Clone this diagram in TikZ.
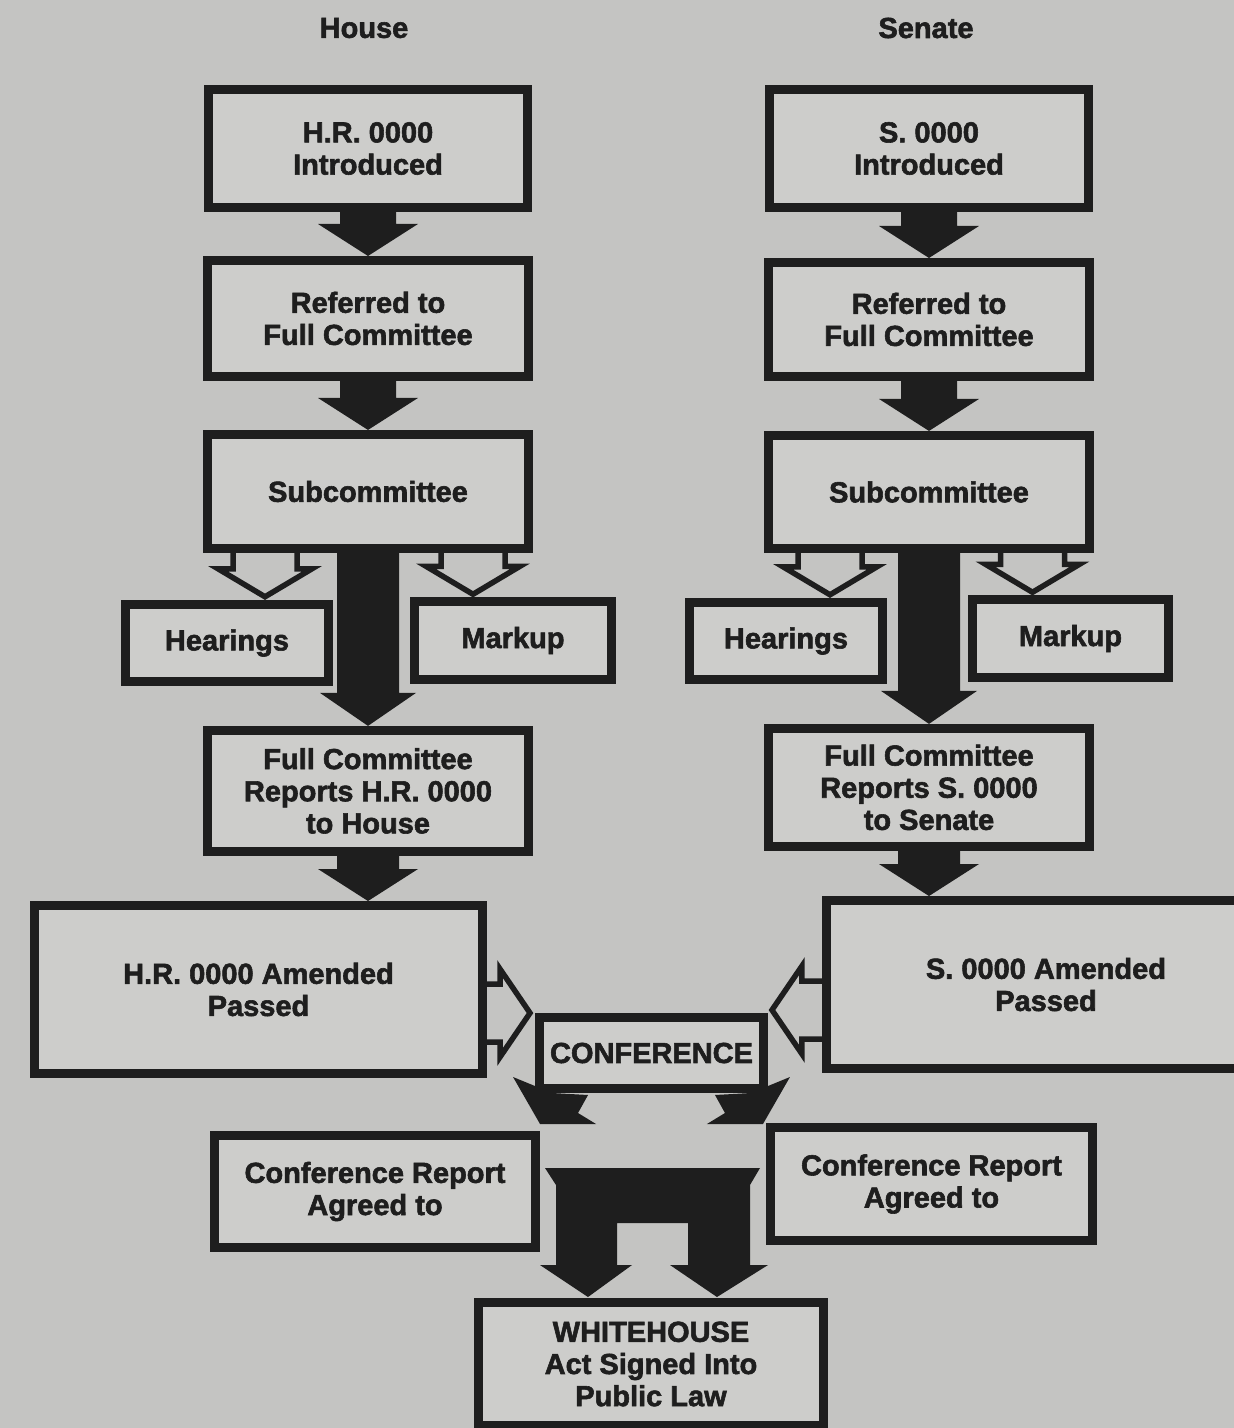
\documentclass[tikz,border=0pt]{standalone}
\usepackage{fontspec}
\setmainfont{Liberation Sans}
\newfontfamily\heavyfont{Liberation Sans Bold}[FakeBold=2]
\usepackage{tikz}
\usetikzlibrary{positioning,calc}
\definecolor{paper}{RGB}{196,196,194}
\definecolor{boxfill}{RGB}{205,205,203}
\definecolor{ink}{RGB}{30,30,30}

% solid block arrow: from, to, shaft half width, head half width, head length
\newcommand{\blockdown}[5]{%
  \coordinate (tip) at (#1.south |- #2.north);
  \fill[blk] ($(#1.south)+(-#3,-4)$) -- ($(tip)+(-#3,-#5)$) -- ($(tip)+(-#4,-#5)$) -- (tip)
    -- ($(tip)+(#4,-#5)$) -- ($(tip)+(#3,-#5)$) -- ($(#1.south)+(#3,-4)$) -- cycle;}
% open arrows: box the arrow leaves, tip coordinate
\newcommand{\opendown}[2]{%
  \draw[openarr] ($(#2 |- #1.south)+(-32,0)$) -- ($(#2)+(-32,-28)$) -- ($(#2)+(-47,-28)$) -- (#2)
    -- ($(#2)+(47,-28)$) -- ($(#2)+(32,-28)$) -- ($(#2 |- #1.south)+(32,0)$);}
\newcommand{\openright}[2]{%
  \draw[openarr] ($(#1.east |- #2)+(0,-29)$) -- ($(#2)+(-30,-29)$) -- ($(#2)+(-30,-44)$) -- (#2)
    -- ($(#2)+(-30,44)$) -- ($(#2)+(-30,29)$) -- ($(#1.east |- #2)+(0,29)$);}
\newcommand{\openleft}[2]{%
  \draw[openarr] ($(#1.west |- #2)+(0,-29)$) -- ($(#2)+(30,-29)$) -- ($(#2)+(30,-44)$) -- (#2)
    -- ($(#2)+(30,44)$) -- ($(#2)+(30,29)$) -- ($(#1.west |- #2)+(0,29)$);}

\begin{document}
\begin{tikzpicture}[x=0.02cm,y=-0.02cm,
  font=\heavyfont\fontsize{16.5}{18.3}\selectfont,
  stagebox/.style={draw=ink,line width=0.18cm,fill=boxfill,text=ink,align=center,inner sep=2pt,minimum width=6.42cm,minimum height=2.3cm},
  sidebox/.style={stagebox,minimum width=3.94cm,minimum height=1.55cm},
  heading/.style={text=ink},
  blk/.style={fill=ink},
  openarr/.style={draw=ink,line width=0.11cm},
]
\fill[paper] (0,0) rectangle (1234,1428);
\useasboundingbox (0,0) rectangle (1234,1428);

\node[heading] (househead) at (364,28) {House};
\node[heading] (senatehead) at (926,28) {Senate};

% House side
\node[stagebox,minimum width=6.40cm,minimum height=2.36cm] (hrintro) at (368,148.5) {H.R. 0000\\Introduced};
\node[stagebox,below=0.88cm of hrintro,minimum height=2.32cm] (hrref) {Referred to\\Full Committee};
\node[stagebox,below=0.98cm of hrref,minimum height=2.28cm] (hrsub) {Subcommittee};
\node[sidebox,minimum width=4.06cm] (hrhear) at (227,643) {Hearings};
\node[sidebox] (hrmark) at (513,640.5) {Markup};
\node[stagebox,below=3.46cm of hrsub,minimum width=6.44cm,minimum height=2.42cm] (hrreport) {Full Committee\\Reports H.R. 0000\\to House};
\node[stagebox,minimum width=8.96cm,minimum height=3.36cm] (hrpass) at (258.5,989.5) {H.R. 0000 Amended\\Passed};

% Senate side
\node[stagebox,minimum width=6.40cm,minimum height=2.36cm] (sintro) at (929,148.5) {S. 0000\\Introduced};
\node[stagebox,below=0.92cm of sintro,minimum height=2.28cm] (sref) {Referred to\\Full Committee};
\node[stagebox,below=1.0cm of sref,minimum height=2.26cm] (ssub) {Subcommittee};
\node[sidebox,minimum width=3.86cm] (shear) at (786,641) {Hearings};
\node[sidebox,minimum width=3.92cm] (smark) at (1070.5,638.5) {Markup};
\node[stagebox,below=3.42cm of ssub,minimum height=2.36cm] (sreport) {Full Committee\\Reports S. 0000\\to Senate};
\node[stagebox,minimum width=8.78cm,minimum height=3.36cm] (spass) at (1046,984.5) {S. 0000 Amended\\Passed};

% conference and signing
\node[stagebox,minimum width=4.48cm,minimum height=1.42cm] (conf) at (651.5,1053) {CONFERENCE};
\node[stagebox,minimum height=2.24cm] (crhouse) at (375,1191.5) {Conference Report\\Agreed to};
\node[stagebox,minimum width=6.44cm,minimum height=2.26cm] (crsenate) at (931.5,1184) {Conference Report\\Agreed to};
\node[stagebox,minimum width=6.9cm,minimum height=2.46cm] (whitehouse) at (651,1364) {WHITEHOUSE\\Act Signed Into\\Public Law};

\blockdown{hrintro}{hrref}{28}{50}{32}
\blockdown{hrref}{hrsub}{28}{50}{32}
\blockdown{hrsub}{hrreport}{31}{48}{33}
\blockdown{hrreport}{hrpass}{31}{50}{32}
\blockdown{sintro}{sref}{28}{50}{32}
\blockdown{sref}{ssub}{28}{50}{32}
\blockdown{ssub}{sreport}{31}{48}{33}
\blockdown{sreport}{spass}{31}{50}{32}

\coordinate (hrheartip) at ($(hrhear.north)+(38,-3)$);
\coordinate (hrmarktip) at ($(hrmark.north)+(-40,-3)$);
\coordinate (sheartip) at ($(shear.north)+(44,-3)$);
\coordinate (smarktip) at ($(smark.north)+(-38,-3)$);
\opendown{hrsub}{hrheartip}
\opendown{hrsub}{hrmarktip}
\opendown{ssub}{sheartip}
\opendown{ssub}{smarktip}

\coordinate (confin1) at ($(conf.north west)+(-5,0)$);
\coordinate (confin2) at ($(conf.north east)+(4,-3)$);
\openright{hrpass}{confin1}
\openleft{spass}{confin2}

% hooks out of conference
\begin{scope}[shift={(conf.south west)}]
  \fill[blk] (-22,-16) -- (17,0) -- (53,2) -- (43,20) -- (61,31) -- (5,31) -- cycle;
\end{scope}
\begin{scope}[shift={(conf.south east)}]
  \fill[blk] (22,-16) -- (-17,0) -- (-53,2) -- (-43,20) -- (-61,31) -- (-5,31) -- cycle;
\end{scope}

% both reports to the White House
\begin{scope}[shift={(whitehouse.north)}]
  \fill[blk] (-106,-130) -- (109,-130) -- (99,-113) -- (99,-33) -- (117,-33) -- (66,-1) -- (19,-33)
    -- (37,-33) -- (37,-75) -- (-34,-75) -- (-34,-33) -- (-19,-33) -- (-63,-1) -- (-111,-33)
    -- (-95,-33) -- (-95,-113) -- cycle;
\end{scope}
\end{tikzpicture}
\end{document}
